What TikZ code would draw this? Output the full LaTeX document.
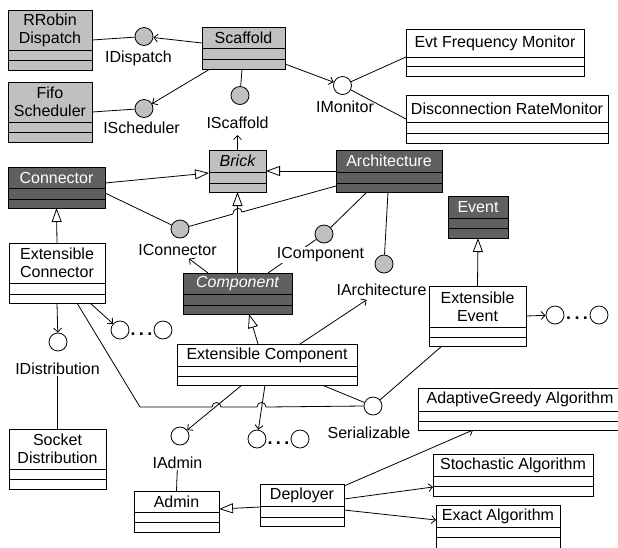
\documentclass[tikz,border=0pt]{standalone}
\usepackage{fontspec}
\setmainfont{Liberation Sans}
\usetikzlibrary{arrows.meta}
\definecolor{boxlight}{HTML}{C0C0C0}
\definecolor{boxdark}{HTML}{606060}
\definecolor{circgray}{HTML}{C0C0C0}
\pgfdeclarelayer{bg}
\pgfsetlayers{bg,main}
\newcommand\umlcls[9]{%
  \path[#8cls] (#2,#3) rectangle (#4,#5);
  \draw[divline] (#2,#6) -- (#4,#6) (#2,#7) -- (#4,#7);
  \path[#8cls, fill=none] (#2,#3) rectangle (#4,#5);
  \node[clsnode, minimum width={(#4-#2)*1pt}, minimum height={(#5-#3)*1pt}] (#1) at ({(#2+#4)/2},{(#3+#5)/2}) {};
  \node[#8title] at ({(#2+#4)/2},{(#3+#6)/2}) {#9};
}
\tikzset{
  lightcls/.style={fill=boxlight, draw=black, line width=0.8pt},
  darkcls/.style={fill=boxdark, draw=black, line width=0.8pt},
  whitecls/.style={fill=white, draw=black, line width=0.8pt},
  divline/.style={line width=0.8pt},
  clsnode/.style={rectangle, inner sep=0pt, outer sep=0pt},
  lighttitle/.style={text=black, align=center, inner sep=0pt},
  darktitle/.style={text=white, align=center, inner sep=0pt},
  whitetitle/.style={text=black, align=center, inner sep=0pt},
  iface/.style={circle, draw=black, line width=0.8pt, minimum size=18pt, inner sep=0pt},
  ifgray/.style={iface, fill=circgray},
  ifwhite/.style={iface, fill=white},
  iflabel/.style={inner sep=1pt},
  iflabelw/.style={inner sep=1pt, fill=white},
  conline/.style={line width=0.8pt},
  gen/.style={conline, -{Triangle[open, length=14pt, width=10pt]}},
  dep/.style={conline, -{Straight Barb[length=4pt, width=8pt]}},
  dotsnode/.style={anchor=base, inner sep=0pt, font=\fontsize{18}{18}\selectfont\bfseries},
}
\begin{document}
\begin{tikzpicture}[x=1pt, y=-1pt, every node/.append style={font=\fontsize{16}{18}\selectfont}]
\useasboundingbox (0,0) rectangle (618,547);
% classes
\umlcls{rr}{8}{10}{92}{70}{50}{60}{light}{RRobin\\Dispatch}
\umlcls{fifo}{8}{82}{92}{142}{122}{132}{light}{Fifo\\Scheduler}
\umlcls{scaf}{202}{27}{285}{69}{48}{59}{light}{Scaffold}
\umlcls{evt}{406}{29}{584}{76}{57}{66}{white}{Evt Frequency Monitor}
\umlcls{disc}{406}{95}{608}{143}{122}{133}{white}{Disconnection RateMonitor}
\umlcls{brick}{209}{150}{266}{192}{172}{183}{light}{\itshape Brick}
\umlcls{conn}{8}{167}{105}{208}{188}{199}{dark}{Connector}
\umlcls{arch}{336}{150}{442}{192}{172}{183}{dark}{Architecture}
\umlcls{event}{448}{196}{508}{238}{218}{228}{dark}{Event}
\umlcls{extconn}{9}{243}{105}{303}{283}{294}{white}{Extensible\\Connector}
\umlcls{comp}{183}{273}{292}{314}{294}{305}{dark}{\itshape Component}
\umlcls{extev}{429}{286}{526}{346}{327}{337}{white}{Extensible\\Event}
\umlcls{extcomp}{177}{344}{357}{385}{366}{376}{white}{Extensible Component}
\umlcls{sock}{9}{429}{106}{489}{469}{479}{white}{Socket\\Distribution}
\umlcls{adapt}{418}{388}{622}{430}{411}{421}{white}{AdaptiveGreedy Algorithm}
\umlcls{admin}{134}{491}{219}{532}{512}{522}{white}{Admin}
\umlcls{deploy}{260}{484}{344}{526}{506}{517}{white}{Deployer}
\umlcls{stoch}{433}{454}{593}{496}{476}{486}{white}{Stochastic Algorithm}
\umlcls{exact}{436}{505}{560}{550}{527}{537}{white}{Exact Algorithm}
% interfaces
\node[ifgray] (idisp) at (144,36.5) {};
\node[ifgray] (isched) at (144,108.5) {};
\node[ifgray] (iscaf) at (240,95.5) {};
\node[ifwhite] (imon) at (342.5,85.5) {};
\node[ifgray] (iconn) at (180,229) {};
\node[ifgray] (icomp) at (324,234) {};
\node[ifgray] (iarch) at (384,264) {};
\node[ifwhite] (idist) at (58,342) {};
\node[ifwhite] (ca) at (120,330) {};
\node[ifwhite] (cb) at (163,330) {};
\node[ifwhite] (cc) at (555,315) {};
\node[ifwhite] (cd) at (599,315) {};
\node[ifwhite] (ser) at (373,406) {};
\node[ifwhite] (iadmin) at (180,436) {};
\node[ifwhite] (ce) at (257,439) {};
\node[ifwhite] (cf) at (300,439) {};
% dots
\node[dotsnode] (da) at (141.5,335.5) {.\kern3.5pt.\kern3.5pt.};
\node[dotsnode] (db) at (577,319.5) {.\kern3.5pt.\kern3.5pt.};
\node[dotsnode] (dc) at (278.5,444.5) {.\kern3.5pt.\kern3.5pt.};
% labels
\node[iflabel] (idisplbl) at (138.5,58) {IDispatch};
\node[iflabel] (ischedlbl) at (141.5,128) {IScheduler};
\node[iflabel] (iscaflbl) at (237.5,123) {IScaffold};
\node[iflabel] (imonlbl) at (345,107) {IMonitor};
\node[iflabel] (iconnlbl) at (177.5,250) {IConnector};
\node[iflabelw] (icomplbl) at (320.5,255) {IComponent};
\node[iflabel] (iarchlbl) at (381.5,290) {IArchitecture};
\node[iflabel] (idistlbl) at (57.5,369) {IDistribution};
\node[iflabel] (serlbl) at (369,433) {Serializable};
\node[iflabel] (iadminlbl) at (177.5,463) {IAdmin};
% connectors
\begin{pgfonlayer}{bg}
\draw[conline] (rr.east) -- (idisp);
\draw[dep] ([yshift=5pt]scaf.west) -- (idisp);
\draw[conline] (fifo.east) -- (isched);
\draw[dep] ([xshift=8pt]scaf.south west) -- (isched);
\draw[conline] ([xshift=40pt]scaf.south west) -- (iscaf);
\draw[dep] ([yshift=5pt]scaf.south east) -- (imon);
\draw[conline] (imon) -- ([yshift=-4.5pt]evt.west);
\draw[conline] (imon) -- (disc.west);
\draw[dep, shorten >=5pt] (brick.north) -- (iscaflbl);
\draw[gen] ([yshift=4.5pt]conn.east) -- ([yshift=-2pt]brick.west);
\draw[gen] (arch.west) -- (brick.east);
\draw[conline] ([yshift=-5.5pt]conn.east) -- (iconn);
\draw[conline] (iconn) -- (233,214) .. controls (233,207.5) and (242,206.5) .. (242,212) -- ([yshift=6pt]arch.south west);
\draw[gen] (comp.north) -- (brick.south);
\draw[dep, shorten >=3pt] ([xshift=25pt]comp.north west) -- (iconnlbl);
\draw[conline] ([xshift=-24pt]comp.north east) -- (icomp);
\draw[conline] ([xshift=31pt]arch.south west) -- (icomp);
\draw[conline] ([xshift=52pt]arch.south west) -- (iarch);
\draw[gen] ([xshift=81pt]extcomp.north west) -- ([xshift=66pt]comp.south west);
\draw[dep, shorten >=5pt] ([xshift=123pt]extcomp.north west) -- (iarchlbl);
\draw[gen] (extconn.north) -- (conn.south);
\draw[gen] (extev.north) -- (event.south);
\draw[dep] (extev.east) -- (cc);
\draw[conline] ([xshift=13pt]extev.south west) -- (ser);
\draw[conline] ([xshift=145pt]extcomp.south west) -- (ser);
\draw[dep] ([xshift=65pt]extcomp.south west) -- (iadmin);
\draw[dep] ([xshift=88pt]extcomp.south west) -- (ce);
\draw[dep] (extconn.south) -- (idist);
\draw[dep] ([xshift=81pt]extconn.south west) -- (ca);
\draw[conline] ([xshift=68pt]extconn.south west) -- (140,407) -- (212,407)
  .. controls (212,401) and (221,401) .. (221,407) -- (257,407)
  .. controls (257,401) and (266,401) .. (266,407) -- (ser.west);
\draw[conline] (sock.north) -- (idistlbl);
\draw[conline] (admin.north) -- (iadminlbl);
\draw[gen] ([yshift=-2pt]deploy.west) -- ([yshift=2.5pt]admin.east);
\draw[dep] ([yshift=-2pt]deploy.north east) -- ([xshift=55pt]adapt.south west);
\draw[dep] ([yshift=-15pt]deploy.north east) -- ([yshift=-12pt]stoch.west);
\draw[dep] ([yshift=-26pt]deploy.north east) -- ([yshift=7.5pt]exact.west);
\end{pgfonlayer}
\end{tikzpicture}
\end{document}
